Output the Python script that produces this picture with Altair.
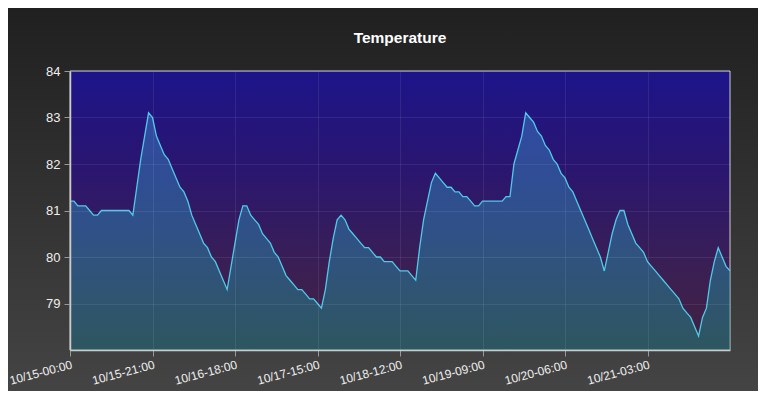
import altair as alt
import pandas as pd

start = "2023-10-15 00:00"
temps = [
    81.2, 81.2, 81.1, 81.1, 81.1, 81.0, 80.9, 80.9, 81.0, 81.0,
    81.0, 81.0, 81.0, 81.0, 81.0, 81.0, 80.9, 81.5, 82.1, 82.6,
    83.1, 83.0, 82.6, 82.4, 82.2, 82.1, 81.9, 81.7, 81.5, 81.4,
    81.2, 80.9, 80.7, 80.5, 80.3, 80.2, 80.0, 79.9, 79.7, 79.5,
    79.3, 79.8, 80.3, 80.8, 81.1, 81.1, 80.9, 80.8, 80.7, 80.5,
    80.4, 80.3, 80.1, 80.0, 79.8, 79.6, 79.5, 79.4, 79.3, 79.3,
    79.2, 79.1, 79.1, 79.0, 78.9, 79.3, 79.9, 80.4, 80.8, 80.9,
    80.8, 80.6, 80.5, 80.4, 80.3, 80.2, 80.2, 80.1, 80.0, 80.0,
    79.9, 79.9, 79.9, 79.8, 79.7, 79.7, 79.7, 79.6, 79.5, 80.2,
    80.8, 81.2, 81.6, 81.8, 81.7, 81.6, 81.5, 81.5, 81.4, 81.4,
    81.3, 81.3, 81.2, 81.1, 81.1, 81.2, 81.2, 81.2, 81.2, 81.2,
    81.2, 81.3, 81.3, 82.0, 82.3, 82.6, 83.1, 83.0, 82.9, 82.7,
    82.6, 82.4, 82.3, 82.1, 82.0, 81.8, 81.7, 81.5, 81.4, 81.2,
    81.0, 80.8, 80.6, 80.4, 80.2, 80.0, 79.7, 80.1, 80.5, 80.8,
    81.0, 81.0, 80.7, 80.5, 80.3, 80.2, 80.1, 79.9, 79.8, 79.7,
    79.6, 79.5, 79.4, 79.3, 79.2, 79.1, 78.9, 78.8, 78.7, 78.5,
    78.3, 78.7, 78.9, 79.5, 79.9, 80.2, 80.0, 79.8, 79.7,
]
tick_times = [
    (10, 15, 0), (10, 15, 21), (10, 16, 18), (10, 17, 15),
    (10, 18, 12), (10, 19, 9), (10, 20, 6), (10, 21, 3),
]
y_ticks = [79, 80, 81, 82, 83, 84]
y_domain = [78, 84]
title_text = ["Temperature"]

times = pd.date_range(start, periods=len(temps), freq="h")
df = pd.DataFrame({"time": times.strftime("%Y-%m-%dT%H:%M:%S"), "temp": temps})

W, H = 660, 279
PL, PT, PR, PB = 62, 63, 28, 41

x_scale = alt.Scale(domain=[alt.DateTime(year=2023, month=10, date=15, hours=0),
                            alt.DateTime(year=2023, month=10, date=22, hours=0)], nice=False)
y_scale = alt.Scale(domain=y_domain, zero=False, nice=False)

x_axis = alt.Axis(
    values=[alt.DateTime(year=2023, month=m, date=d, hours=h) for m, d, h in tick_times],
    format="%m/%d-%H:%M", labelAngle=-15, labelAlign="right", labelBaseline="top",
    labelColor="#eeeeee", labelFontSize=12, labelFont="Liberation Sans",
    labelPadding=3, labelOffset=0, tickColor="#999999", tickSize=6, domainColor="#cccccc",
    domainWidth=1.5, gridColor="#ffffff", gridOpacity=0.08, title=None, zindex=1,
    labelOverlap=False, labelFlush=False,
)
y_axis = alt.Axis(
    values=y_ticks, labelColor="#eeeeee", labelFontSize=13, labelFont="Liberation Sans",
    tickColor="#999999", tickSize=6, domainColor="#cccccc", domainWidth=1.5,
    gridColor="#ffffff", gridOpacity=0.08, title=None, zindex=1, labelPadding=4,
)

one = pd.DataFrame({"k": [0]})

outer_bg = alt.Chart(one).mark_rect(
    fill=alt.Gradient(gradient="linear", x1=0, y1=0, x2=0, y2=1,
                      stops=[alt.GradientStop(color="#202020", offset=0),
                             alt.GradientStop(color="#444444", offset=1)])
).encode(x=alt.value(-PL), x2=alt.value(W + PR), y=alt.value(-PT), y2=alt.value(H + PB))

title = alt.Chart(pd.DataFrame({"t": title_text})).mark_text(
    color="#ffffff", fontSize=15.5, fontWeight="bold", font="Liberation Sans",
    align="center", baseline="middle",
).encode(text="t:N", x=alt.value(W / 2), y=alt.value(-33))

plot_bg = alt.Chart(one).mark_rect(
    fill=alt.Gradient(gradient="linear", x1=0, y1=0, x2=0, y2=1,
                      stops=[alt.GradientStop(color="#1d148a", offset=0),
                             alt.GradientStop(color="#2a1670", offset=0.35),
                             alt.GradientStop(color="#3a1f55", offset=0.7),
                             alt.GradientStop(color="#42223f", offset=1)]),
    stroke="#cccccc", strokeWidth=1,
).encode(x=alt.value(0), x2=alt.value(W), y=alt.value(0), y2=alt.value(H))

base = alt.Chart(df).encode(
    x=alt.X("time:T", scale=x_scale, axis=x_axis),
)

area = base.mark_area(
    fill=alt.Gradient(gradient="linear", x1=0, y1=0, x2=0, y2=1,
                      stops=[alt.GradientStop(color="#3f7fc8", offset=0),
                             alt.GradientStop(color="#2a86b0", offset=0.5),
                             alt.GradientStop(color="#188a80", offset=1)]),
    fillOpacity=0.5,
).encode(
    y=alt.Y("temp:Q", scale=y_scale, axis=y_axis),
    y2=alt.datum(78),
)

line = base.mark_line(color="#4fcbe8", strokeWidth=1.3).encode(
    y=alt.Y("temp:Q", scale=y_scale),
)

chart = alt.layer(outer_bg, title, plot_bg, area, line).properties(
    width=W, height=H,
    autosize=alt.AutoSizeParams(type="none"),
    padding={"left": PL, "top": PT, "right": PR, "bottom": PB},
    background="#2a2a2a",
).configure_view(strokeWidth=0)

chart.save("out.html", embed_options={"renderer": "svg", "actions": False})
